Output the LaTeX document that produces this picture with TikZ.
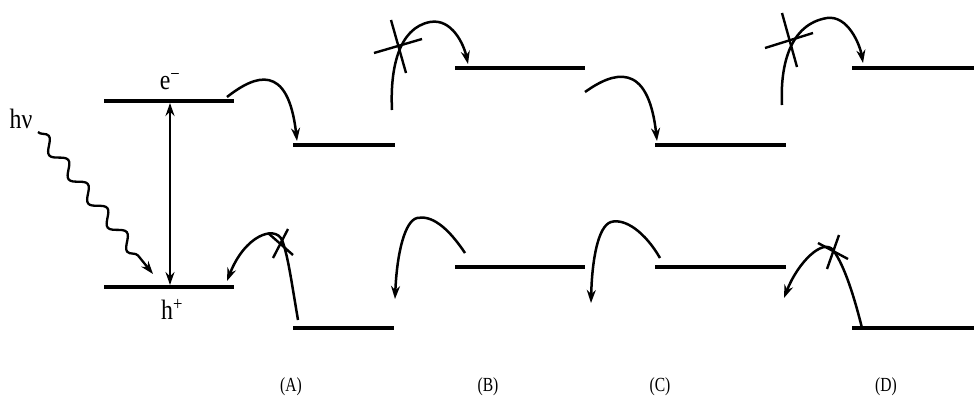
\documentclass[tikz,border=0pt]{standalone}
\usepackage{fontspec}
\usepackage{graphicx}
\setmainfont{Liberation Serif}
\usetikzlibrary{arrows.meta,decorations.pathmorphing}
\begin{document}
\begin{tikzpicture}[x=1pt,y=-1pt,
  level/.style={line width=3.3pt},
  tip/.tip={Stealth[length=13pt,width=9pt]},
  trans/.style={line width=2.5pt,-tip},
  crossl/.style={line width=2.4pt},
  lab/.style={font=\fontsize{28}{30}\selectfont,inner sep=0pt},
  caplab/.style={font=\fontsize{20}{22}\selectfont,inner sep=0pt}]
\useasboundingbox (0,0) rectangle (974,400);
% levels
\coordinate (cb0l) at (104,101); \coordinate (cb0r) at (234,101);
\coordinate (vb0l) at (104,287); \coordinate (vb0r) at (234,287);
\coordinate (cbAl) at (293,145); \coordinate (cbAr) at (395,145);
\coordinate (vbAl) at (293,328); \coordinate (vbAr) at (394,328);
\coordinate (cbBl) at (455,68); \coordinate (cbBr) at (585,68);
\coordinate (vbBl) at (455,267); \coordinate (vbBr) at (585,267);
\coordinate (cbCl) at (655,145); \coordinate (cbCr) at (786,145);
\coordinate (vbCl) at (655,267); \coordinate (vbCr) at (786,267);
\coordinate (cbDl) at (852,68); \coordinate (cbDr) at (974,68);
\coordinate (vbDl) at (852,328); \coordinate (vbDr) at (974,328);
\foreach \a/\b in {cb0l/cb0r,vb0l/vb0r,cbAl/cbAr,vbAl/vbAr,cbBl/cbBr,vbBl/vbBr,cbCl/cbCr,vbCl/vbCr,cbDl/cbDr,vbDl/vbDr}
  \draw[level] (\a) -- (\b);
% labels
\node[lab] (em) at (170,82) {\scalebox{0.85}[1]{e\textsuperscript{−}}};
\node[lab] (hp) at (172,309) {\scalebox{0.85}[1]{h\textsuperscript{+}}};
\node[lab] (hv) at (21,119) {\scalebox{0.85}[1]{hν}};
% excitation arrow
\coordinate (exT) at (170,103);
\coordinate (exB) at (170,285);
\draw[line width=2.5pt,tip-tip] (exT) -- (exB);
% photon
\coordinate (phS) at (38,132);
\coordinate (phE) at (153,274);
\draw[line width=2.3pt,decorate,decoration={snake,amplitude=6pt,segment length=31pt,post length=13pt},-tip] (phS) -- (phE);
% electron transfers
\coordinate (eAs) at (227,97); \coordinate (eAe) at (297,141);
\draw[trans] (eAs) .. controls (255,75) and (288,62) .. (eAe);
\coordinate (eBs) at (392,110); \coordinate (eBx) at (430,22); \coordinate (eBe) at (468,64);
\draw[trans] (eBs) .. controls (390,70) and (398,28) .. (eBx) .. controls (452,18) and (464,45) .. (eBe);
\coordinate (eCs) at (585,92); \coordinate (eCe) at (657,141);
\draw[trans] (eCs) .. controls (613,72) and (648,60) .. (eCe);
\coordinate (eDs) at (782,105); \coordinate (eDx) at (827,18); \coordinate (eDe) at (863,63);
\draw[trans] (eDs) .. controls (780,65) and (790,24) .. (eDx) .. controls (848,15) and (860,45) .. (eDe);
% hole transfers
\coordinate (hAs) at (298,320); \coordinate (hAx) at (282,240); \coordinate (hAe) at (227,281);
\draw[trans] (hAs) .. controls (292,285) and (288,255) .. (hAx) .. controls (275,225) and (245,235) .. (hAe);
\coordinate (hBs) at (465,253); \coordinate (hBx) at (417,218); \coordinate (hBe) at (395,299);
\draw[trans] (hBs) .. controls (447,226) and (431,215) .. (hBx) .. controls (405,221) and (397,252) .. (hBe);
\coordinate (hCs) at (660,258); \coordinate (hCx) at (611,222); \coordinate (hCe) at (591,303);
\draw[trans] (hCs) .. controls (645,232) and (625,218) .. (hCx) .. controls (598,226) and (592,260) .. (hCe);
\coordinate (hDs) at (862,328); \coordinate (hDx) at (833,250); \coordinate (hDe) at (784,298);
\draw[trans] (hDs) .. controls (855,300) and (845,266) .. (hDx) .. controls (823,238) and (798,262) .. (hDe);
% crosses
\draw[crossl] (268,233) -- (293,255);
\draw[crossl] (288,229) -- (273,258);
\draw[crossl] (374,53) -- (422,39);
\draw[crossl] (391,20) -- (406,73);
\draw[crossl] (765,48) -- (813,33);
\draw[crossl] (782,13) -- (797,67);
\draw[crossl] (818,243) -- (848,259);
\draw[crossl] (839,235) -- (827,269);
% captions
\node[caplab] (capA) at (291,387) {\scalebox{0.78}[1]{(A)}};
\node[caplab] (capB) at (488,387) {\scalebox{0.78}[1]{(B)}};
\node[caplab] (capC) at (660,387) {\scalebox{0.78}[1]{(C)}};
\node[caplab] (capD) at (886,387) {\scalebox{0.78}[1]{(D)}};
\end{tikzpicture}
\end{document}
